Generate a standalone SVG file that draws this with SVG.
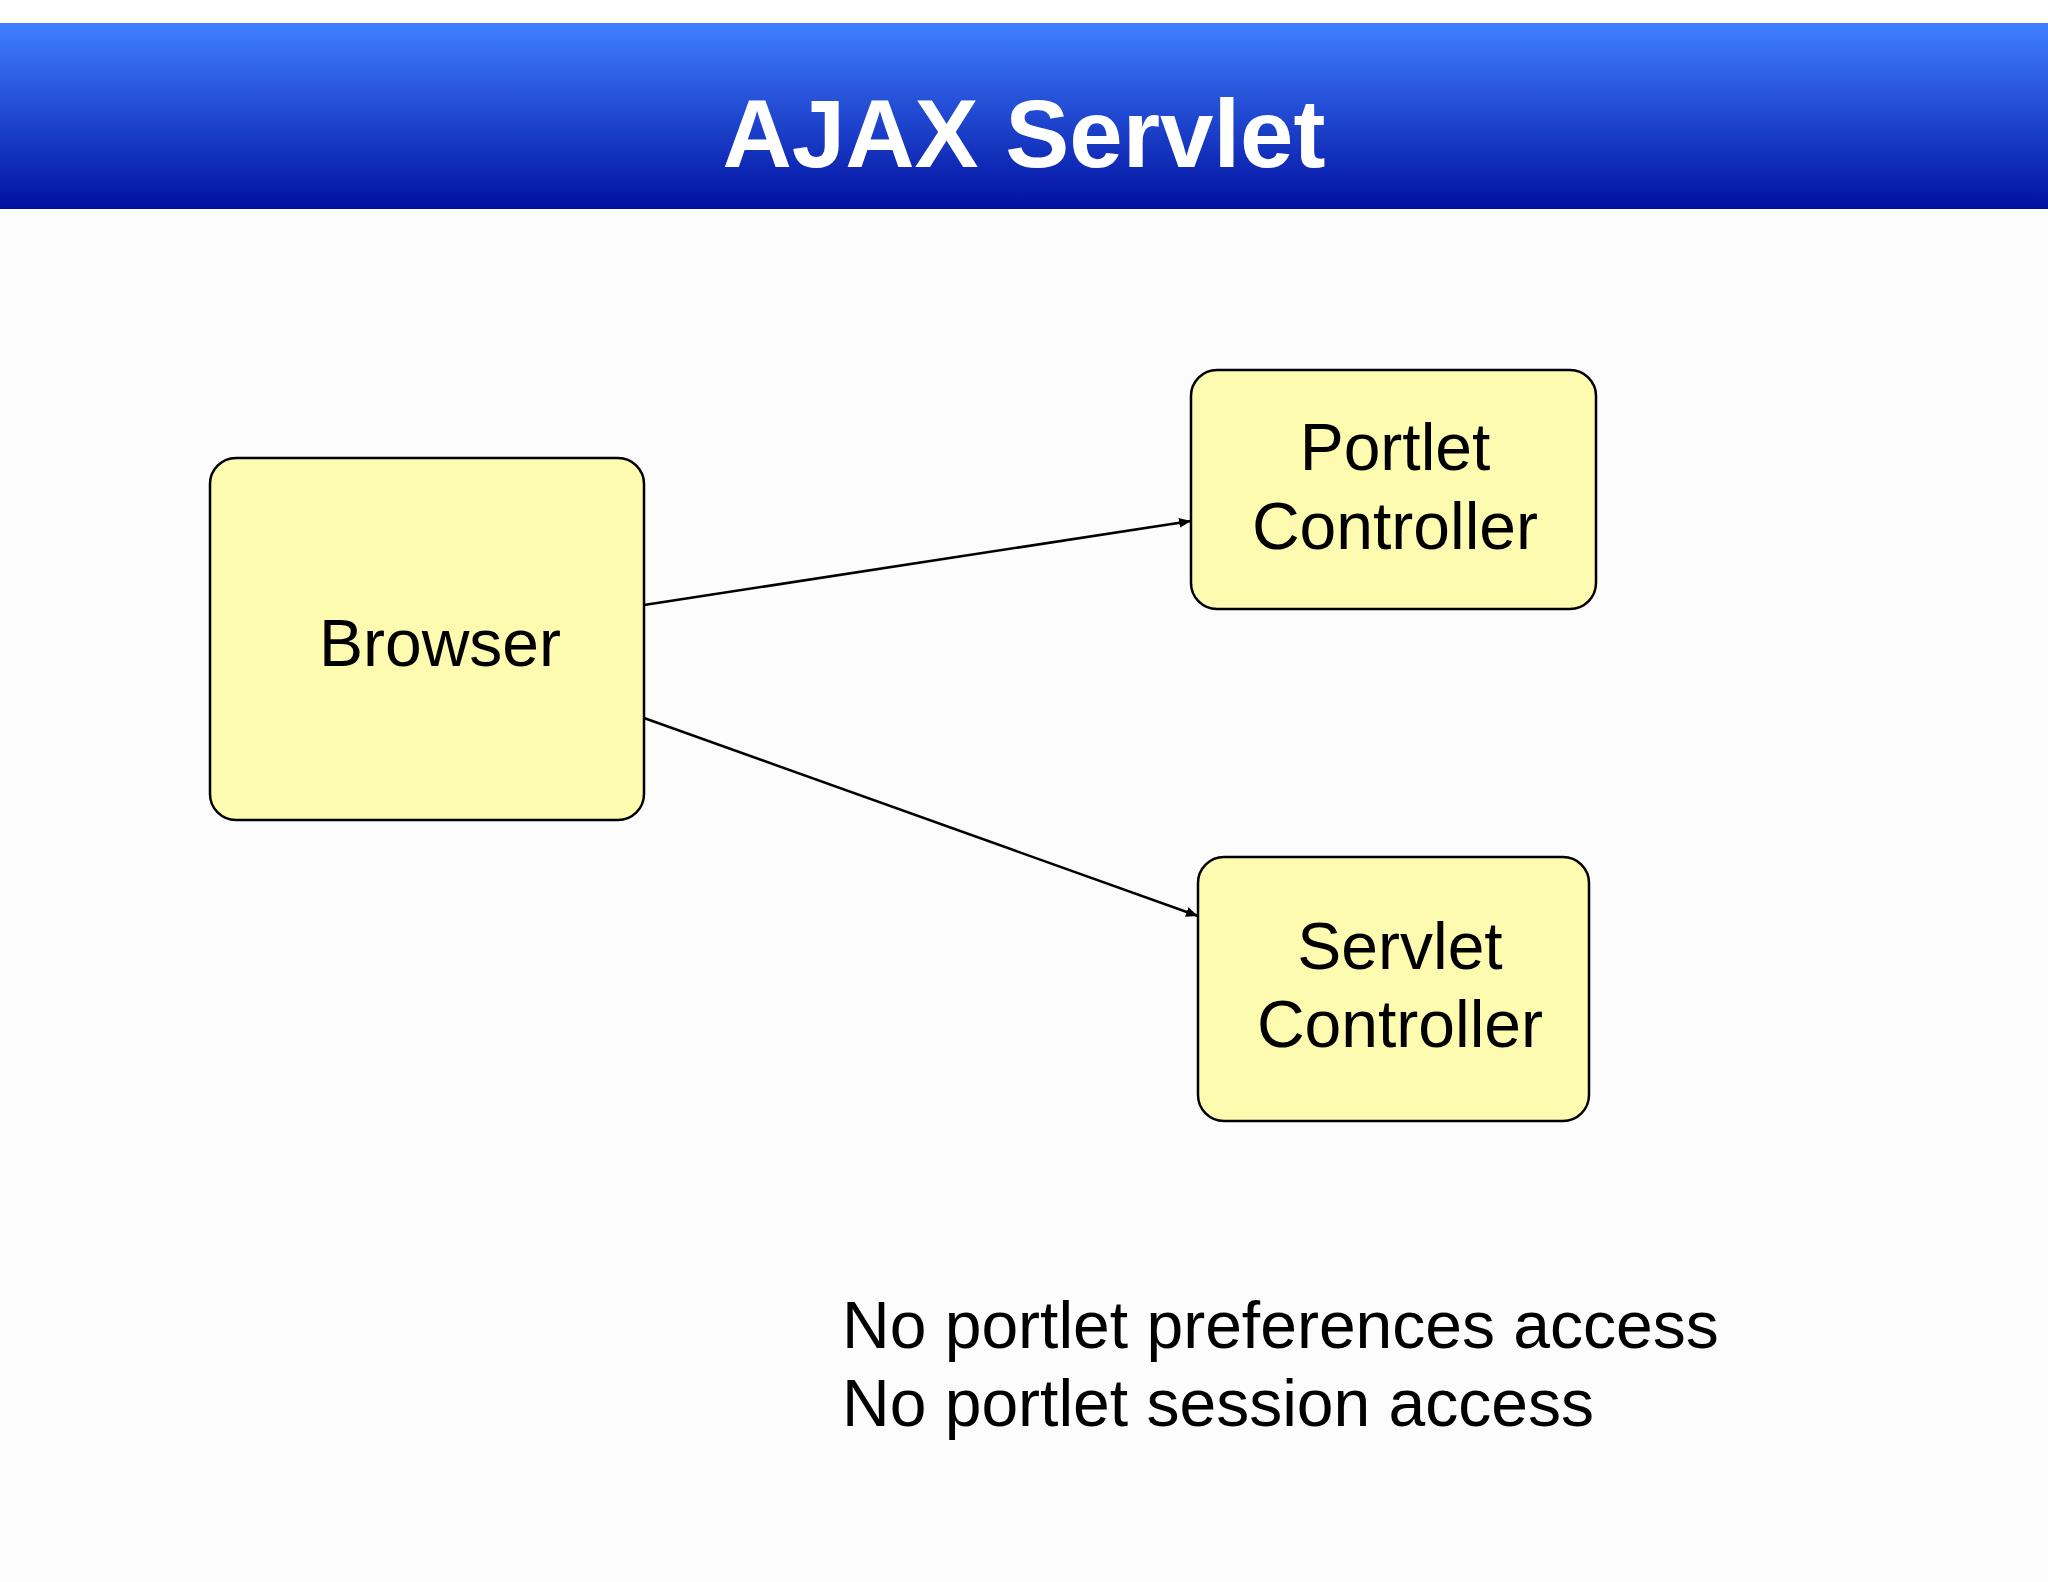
<svg xmlns="http://www.w3.org/2000/svg" width="2048" height="1582" viewBox="0 0 2048 1582">
<defs>
<linearGradient id="hdr" x1="0" y1="0" x2="0" y2="1"><stop offset="0" stop-color="#4080ff"/><stop offset="1" stop-color="#0010a0"/></linearGradient>
<marker id="arr" markerWidth="12" markerHeight="10" refX="12" refY="5" orient="auto" markerUnits="userSpaceOnUse"><path d="M0,0 L12,5 L0,10 z" fill="#000"/></marker>
<style>
.box{fill:#fdfbb0;stroke:#000;stroke-width:2.5}
.t{font-family:"Liberation Sans",Arial,sans-serif;font-size:66px;fill:#000;text-anchor:middle}
.c{stroke:#000;stroke-width:2.5;fill:none;marker-end:url(#arr)}
</style>
</defs>
<rect width="2048" height="1582" fill="#fcfcfc"/>
<rect x="0" y="0" width="2048" height="23" fill="#fff"/>
<rect x="0" y="23" width="2048" height="186" fill="url(#hdr)"/>
<text x="1024" y="167" font-family="Liberation Sans,Arial,sans-serif" font-size="96" font-weight="bold" fill="#fff" text-anchor="middle">AJAX Servlet</text>
<g id="connectors">
<line class="c" x1="644" y1="605" x2="1191" y2="521"/>
<line class="c" x1="644" y1="718" x2="1198" y2="916"/>
</g>
<g id="browser"><rect class="box" x="210" y="458" width="434" height="362" rx="26"/><text class="t" x="440" y="666">Browser</text></g>
<g id="portlet"><rect class="box" x="1191" y="370" width="405" height="239" rx="26"/><text class="t" x="1395" y="470">Portlet</text><text class="t" x="1395" y="549">Controller</text></g>
<g id="servlet"><rect class="box" x="1198" y="857" width="391" height="264" rx="26"/><text class="t" x="1400" y="969">Servlet</text><text class="t" x="1400" y="1047">Controller</text></g>
<g id="notes" font-family="Liberation Sans,Arial,sans-serif" font-size="66" fill="#000">
<text x="842" y="1348">No portlet preferences access</text>
<text x="842" y="1426">No portlet session access</text>
</g>
</svg>
